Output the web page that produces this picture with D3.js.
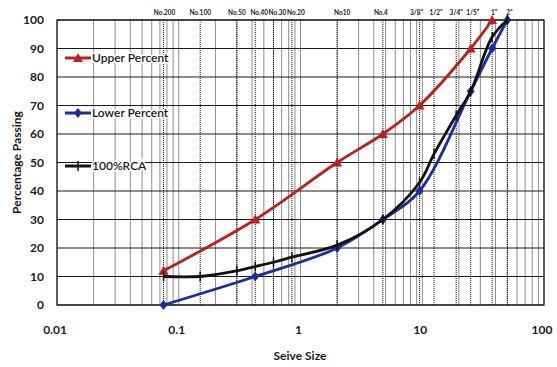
<!DOCTYPE html>
<html>
<head>
<meta charset="utf-8">
<script src="https://cdn.jsdelivr.net/npm/d3@7"></script>
<style>
  body { margin: 0; background: #fff; }
  text { font-family: Lato, "Open Sans", sans-serif; fill: #1a1a1a; }
</style>
</head>
<body>
<div id="chart"></div>
<script>
// sieve sizes in mm with the labels printed along the top
const sieveSizes = [0.075, 0.15, 0.3, 0.425, 0.6, 0.85, 2, 4.75, 9.5, 12.5, 19, 25, 37.5, 50]
const sieveLabels = ["No.200", "No.100", "No.50", "No.40", "No.30", "No.20", "No10", "No.4", "3/8\"", "1/2\"", "3/4\"", "1/5\"", "1\"", "2\""]

const upperSizes = [0.075, 0.425, 2, 4.75, 9.5, 25, 37.5]
const upperPercent = [12, 30, 50, 60, 70, 90, 100]

const lowerSizes = [0.075, 0.425, 2, 4.75, 9.5, 25, 37.5, 50]
const lowerPercent = [0, 10, 20, 30, 40, 75, 90, 100]

const rcaSizes = [0.075, 0.15, 0.3, 0.425, 0.6, 0.85, 2, 4.75, 9.5, 12.5, 19, 25, 37.5, 50]
const rcaPercent = [10, 10, 12, 13.5, 15, 16.8, 21, 30, 43, 53, 66.5, 75, 94, 100]

const xTicks = [0.01, 0.1, 1, 10, 100]
const yTicks = [0, 10, 20, 30, 40, 50, 60, 70, 80, 90, 100]

const W = 557, H = 367
const MARGIN = {TOP: 20, BOTTOM: 62, LEFT: 57, RIGHT: 13}

// small nudges so the crowded top labels sit like the original
const labelNudge = [1, 0, 0, 4, 4, 4, 5, -2, -3, 2, 0, 2, 2, 2]

const svg = d3.select("#chart").append("svg")
  .attr("width", W).attr("height", H)

const x = d3.scaleLog().domain([0.01, 100]).range([MARGIN.LEFT, W - MARGIN.RIGHT])
const y = d3.scaleLinear().domain([0, 100]).range([H - MARGIN.BOTTOM, MARGIN.TOP])

// minor log grid
const minor = []
for (let p = -2; p < 2; p++) for (let k = 2; k <= 9; k++) minor.push(k * Math.pow(10, p))
svg.append("g").selectAll("line").data(minor.concat(xTicks)).enter().append("line")
  .attr("x1", d => x(d)).attr("x2", d => x(d))
  .attr("y1", y(0)).attr("y2", y(100))
  .attr("stroke", "#8c8c8c").attr("stroke-width", 1)

// sieve lines dotted
svg.append("g").selectAll("line").data(sieveSizes).enter().append("line")
  .attr("x1", d => x(d)).attr("x2", d => x(d))
  .attr("y1", y(0)).attr("y2", y(100))
  .attr("stroke", "#111").attr("stroke-width", 1).attr("stroke-dasharray", "1,1")

// horizontal grid
svg.append("g").selectAll("line").data(yTicks).enter().append("line")
  .attr("x1", x(0.01)).attr("x2", x(100))
  .attr("y1", d => y(d)).attr("y2", d => y(d))
  .attr("stroke", "#1a1a1a").attr("stroke-width", 1.2)

svg.append("rect")
  .attr("x", x(0.01)).attr("y", y(100))
  .attr("width", x(100) - x(0.01)).attr("height", y(0) - y(100))
  .attr("fill", "none").attr("stroke", "#1a1a1a").attr("stroke-width", 1.2)

// top sieve labels
svg.append("g").selectAll("text").data(sieveSizes).enter().append("text")
  .attr("x", (d, i) => x(d) + labelNudge[i])
  .attr("y", 15)
  .attr("text-anchor", "middle")
  .attr("font-size", 6.5)
  .attr("font-weight", "bold")
  .text((d, i) => sieveLabels[i])

// y tick labels
svg.append("g").selectAll("text").data(yTicks).enter().append("text")
  .attr("x", 44).attr("y", d => y(d) + 4)
  .attr("text-anchor", "end")
  .attr("font-size", 12).attr("font-weight", "bold")
  .text(d => d)

// x tick labels
svg.append("g").selectAll("text").data(xTicks).enter().append("text")
  .attr("x", d => x(d) - 2).attr("y", 334)
  .attr("text-anchor", "middle")
  .attr("font-size", 12).attr("font-weight", "bold")
  .text(d => d)

svg.append("text")
  .attr("x", 300).attr("y", 360)
  .attr("text-anchor", "middle")
  .attr("font-size", 12).attr("font-weight", "bold")
  .text("Seive Size")

svg.append("text")
  .attr("transform", `translate(21, ${(y(0) + y(100)) / 2}) rotate(-90)`)
  .attr("text-anchor", "middle")
  .attr("font-size", 12).attr("font-weight", "bold")
  .text("Percentage Passing")

const line = d3.line().curve(d3.curveCatmullRom.alpha(0.5))

const series = [
  {name: "Upper Percent", sizes: upperSizes, vals: upperPercent, color: "#b8211c", marker: "tri", ly: 58},
  {name: "Lower Percent", sizes: lowerSizes, vals: lowerPercent, color: "#1b2c9e", marker: "dia", ly: 113},
  {name: "100%RCA", sizes: rcaSizes, vals: rcaPercent, color: "#111111", marker: "bar", ly: 166}
]

function drawMarker(g, type, cx, cy, color) {
  if (type === "tri") {
    g.append("path").attr("d", `M${cx},${cy - 5}L${cx + 5},${cy + 4}L${cx - 5},${cy + 4}Z`).attr("fill", color)
  } else if (type === "dia") {
    g.append("path").attr("d", `M${cx},${cy - 5}L${cx + 4},${cy}L${cx},${cy + 5}L${cx - 4},${cy}Z`).attr("fill", color)
  } else {
    g.append("line").attr("x1", cx).attr("x2", cx).attr("y1", cy - 5).attr("y2", cy + 5)
      .attr("stroke", color).attr("stroke-width", 1.5)
  }
}

series.forEach(s => {
  const pts = s.sizes.map((d, i) => [x(d), y(s.vals[i])])
  svg.append("path").attr("d", line(pts))
    .attr("fill", "none").attr("stroke", s.color).attr("stroke-width", 2.8)
  const g = svg.append("g")
  pts.forEach(p => drawMarker(g, s.marker, p[0], p[1], s.color))

  // legend
  const lg = svg.append("g")
  lg.append("line").attr("x1", 65).attr("x2", 91).attr("y1", s.ly).attr("y2", s.ly)
    .attr("stroke", s.color).attr("stroke-width", 3)
  drawMarker(lg, s.marker, 78, s.ly, s.color)
  lg.append("text").attr("x", 92).attr("y", s.ly + 4)
    .attr("font-size", 12)
    .attr("font-weight", 600)
    .attr("stroke", "#fff").attr("stroke-width", 3).attr("paint-order", "stroke")
    .text(s.name)
})
</script>
</body>
</html>
